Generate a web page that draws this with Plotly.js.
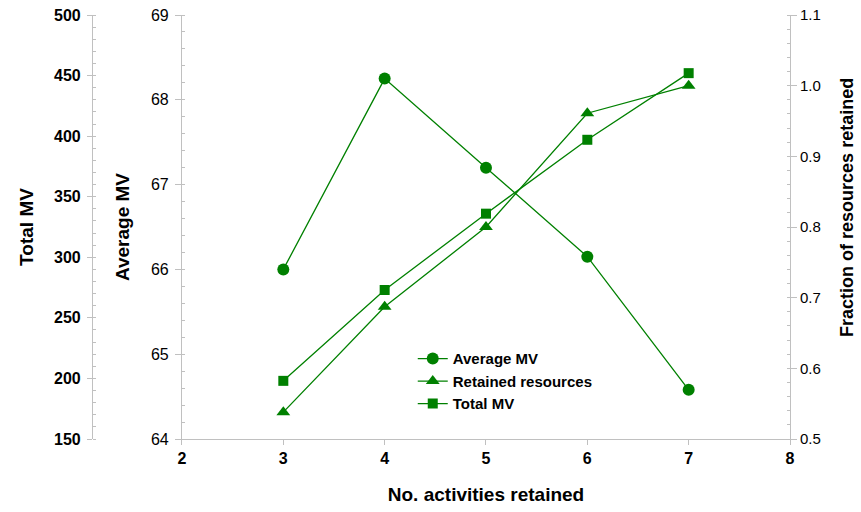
<!DOCTYPE html>
<html>
<head>
<meta charset="utf-8">
<script src="https://cdn.plot.ly/plotly-3.0.1.min.js"></script>
<style>html,body{margin:0;padding:0;background:#fff;}#chart{width:861px;height:512px;}</style>
</head>
<body>
<div id="chart"></div>
<script>
const activities = [3, 4, 5, 6, 7];
const averageMV = [66.0, 68.25, 67.2, 66.15, 64.58];
const retainedResources = [0.538, 0.687, 0.80, 0.961, 1.0];
const totalMV = [198, 273, 336, 397, 452];
const seriesNames = ['Average MV', 'Retained resources', 'Total MV'];

const green = '#008000';
const axisGray = '#c0c0c0';
const fontFam = '"Liberation Sans", Arial, sans-serif';

const traces = [
  {x: activities, y: averageMV, name: seriesNames[0], yaxis: 'y', type: 'scatter', mode: 'lines+markers',
   line: {color: green, width: 1.3}, marker: {symbol: 'circle', size: 12, color: green}},
  {x: activities, y: retainedResources, name: seriesNames[1], yaxis: 'y3', type: 'scatter', mode: 'lines+markers',
   line: {color: green, width: 1.3}, marker: {symbol: 'triangle-up', size: 12, color: green}},
  {x: activities, y: totalMV, name: seriesNames[2], yaxis: 'y2', type: 'scatter', mode: 'lines+markers',
   line: {color: green, width: 1.3}, marker: {symbol: 'square', size: 10, color: green}}
];

const layout = {
  width: 861, height: 512,
  margin: {l: 40, r: 71, t: 15, b: 73},
  paper_bgcolor: '#fff', plot_bgcolor: '#fff',
  font: {family: fontFam, color: '#000', size: 14},
  showlegend: true,
  legend: {x: 0.497, y: 0.228, xanchor: 'left', yanchor: 'top', bgcolor: 'rgba(0,0,0,0)',
           font: {family: fontFam, size: 15, color: '#000', weight: 'bold'}},
  xaxis: {domain: [0.1893, 1], range: [2, 8], dtick: 1, tick0: 2, showgrid: false, zeroline: false,
          showline: true, linecolor: axisGray, linewidth: 1, ticks: 'outside', ticklen: 5, tickcolor: axisGray,
          tickfont: {family: fontFam, size: 16, weight: 'bold'},
          title: {text: 'No. activities retained', font: {family: fontFam, size: 19, weight: 'bold'}, standoff: 21}},
  yaxis: {range: [64, 69], dtick: 1, showgrid: false, zeroline: false, showline: true, linecolor: axisGray,
          ticks: 'outside', ticklen: 6, tickcolor: axisGray, ticklabelstandoff: 3,
          minor: {dtick: 0.2, ticks: 'inside', ticklen: 3, tickcolor: axisGray, showgrid: false},
          tickfont: {family: fontFam, size: 16},
          title: {text: 'Average MV', font: {family: fontFam, size: 19, weight: 'bold'}, standoff: 16}},
  yaxis2: {range: [150, 500], dtick: 50, overlaying: 'y', anchor: 'free', position: 0.0693, side: 'left',
           showgrid: false, zeroline: false, showline: true, linecolor: axisGray,
           ticks: 'outside', ticklen: 5, tickcolor: axisGray, ticklabelstandoff: 3,
           minor: {dtick: 10, ticks: 'inside', ticklen: 3, tickcolor: axisGray, showgrid: false},
           tickfont: {family: fontFam, size: 16, weight: 'bold'},
           title: {text: 'Total MV', font: {family: fontFam, size: 19, weight: 'bold'}, standoff: 14}},
  yaxis3: {range: [0.5, 1.1], dtick: 0.1, tickformat: '.1f', overlaying: 'y', anchor: 'x', side: 'right',
           showgrid: false, zeroline: false, showline: true, linecolor: axisGray,
           ticks: 'outside', ticklen: 6, tickcolor: axisGray,
           minor: {dtick: 0.02, ticks: 'inside', ticklen: 3, tickcolor: axisGray, showgrid: false},
           tickfont: {family: fontFam, size: 15}},
  annotations: [
    {text: 'Fraction of resources retained', xref: 'paper', yref: 'paper', x: 1.076, y: 0.545,
     xanchor: 'center', yanchor: 'middle', textangle: -90, showarrow: false,
     font: {family: fontFam, size: 18, weight: 'bold', color: '#000'}}
  ]
};

Plotly.newPlot('chart', traces, layout, {displayModeBar: false, staticPlot: true});
</script>
</body>
</html>
